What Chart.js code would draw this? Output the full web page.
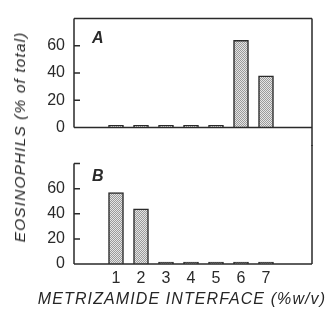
<!DOCTYPE html>
<html>
<head>
<meta charset="utf-8">
<script src="https://cdn.jsdelivr.net/npm/chart.js@4/dist/chart.umd.min.js"></script>
<style>
  body { margin: 0; background: #fff; }
  #wrap { position: relative; width: 333px; height: 316px; overflow: hidden; }
  #chartA { position: absolute; left: 0; top: 0; }
  #chartB { position: absolute; left: 0; top: 145px; }
  .title { position: absolute; white-space: nowrap; color: #262626;
           font: italic 15.5px "Liberation Sans", Arial, sans-serif; }
  #ytitle { left: 20px; top: 137px; transform: translate(-50%, -50%) rotate(-90deg); letter-spacing: 1.1px; }
  #xtitle { left: 182px; top: 299px; transform: translate(-50%, -50%); letter-spacing: 1.1px; font-size: 16px; }
</style>
</head>
<body>
<div id="wrap">
  <canvas id="chartA" width="333" height="146"></canvas>
  <canvas id="chartB" width="333" height="171"></canvas>
  <div id="ytitle" class="title">EOSINOPHILS (% of total)</div>
  <div id="xtitle" class="title">METRIZAMIDE INTERFACE (%w/v)</div>
</div>
<script>
// metrizamide interface (% w/v) and eosinophils (% of total) per panel
const interfaces = [1, 2, 3, 4, 5, 6, 7];
const panelA = [0, 0, 0, 0, 0, 64, 38];
const panelB = [57, 44, 0, 0, 0, 0, 0];
const yTicks = [0, 20, 40, 60, 80];

const FONT = '"Liberation Sans", Arial, sans-serif';
const INK = '#2a2a2a';

// stippled grey fill like the printed bars
function stipple() {
    let c = document.createElement('canvas');
    c.width = 2; c.height = 2;
    let g = c.getContext('2d');
    g.fillStyle = '#e4e4e4';
    g.fillRect(0, 0, 2, 2);
    g.fillStyle = '#9a9a9a';
    g.fillRect(0, 0, 1, 1);
    g.fillRect(1, 1, 1, 1);
    return g.createPattern(c, 'repeat');
}

// frame, inward ticks and panel letter
const framePlugin = {
    id: 'frame',
    afterDatasetsDraw(chart, args, opts) {
        let ctx = chart.ctx, a = chart.chartArea, y = chart.scales.y;
        let y0 = y.getPixelForValue(0);
        ctx.save();
        ctx.strokeStyle = INK;
        ctx.lineWidth = 1.5;
        ctx.beginPath();
        ctx.moveTo(a.left, a.top); ctx.lineTo(a.left, y0);
        ctx.moveTo(a.left, y0); ctx.lineTo(a.right, y0);
        ctx.moveTo(a.right, opts.boxTop ? a.top : 0);
        ctx.lineTo(a.right, opts.extendDown ? chart.height : y0);
        if (opts.boxTop) { ctx.moveTo(a.left, a.top); ctx.lineTo(a.right, a.top); }
        y.ticks.forEach(function(t) {
            let p = y.getPixelForValue(t.value);
            ctx.moveTo(a.left, p); ctx.lineTo(a.left + 6, p);
        });
        ctx.stroke();
        ctx.fillStyle = INK;
        ctx.font = 'italic bold 16px ' + FONT;
        ctx.textBaseline = 'top';
        ctx.fillText(opts.label, a.left + 18, a.top + opts.labelDy);
        ctx.restore();
    }
};

function makeChart(id, values, opts) {
    let ctx = document.getElementById(id).getContext('2d');
    return new Chart(ctx, {
        type: 'bar',
        data: {
            datasets: [{
                data: interfaces.map((x, i) => ({ x: x, y: values[i] })),
                backgroundColor: stipple(),
                borderColor: INK,
                borderWidth: 1.5,
                borderSkipped: 'start',
                barThickness: 15,
                minBarLength: 2
            }]
        },
        options: {
            responsive: false,
            animation: false,
            layout: { padding: opts.padding },
            scales: {
                x: {
                    type: 'linear',
                    min: 0,
                    max: 8.16,
                    display: opts.showX,
                    grid: { display: false, drawTicks: false },
                    border: { display: false },
                    afterBuildTicks: s => { s.ticks = interfaces.map(v => ({ value: v })); },
                    afterFit: s => { s.height = opts.xHeight; },
                    ticks: { color: INK, font: { family: FONT, size: 16 }, padding: 5 }
                },
                y: {
                    min: 0,
                    max: 80,
                    grid: { display: false, drawTicks: false },
                    border: { display: false },
                    afterBuildTicks: s => { s.ticks = yTicks.map(v => ({ value: v })); },
                    afterFit: s => { s.width = 74; },
                    ticks: {
                        color: INK,
                        font: { family: FONT, size: 16 },
                        padding: 9,
                        callback: v => (v === 80 ? '' : v)
                    }
                }
            },
            plugins: {
                legend: { display: false },
                tooltip: { enabled: false },
                frame: opts.frame
            }
        },
        plugins: [framePlugin]
    });
}

makeChart('chartA', panelA, {
    padding: { top: 13, right: 21, bottom: 15, left: 0 },
    showX: false,
    xHeight: 0,
    frame: { label: 'A', boxTop: true, extendDown: true, labelDy: 12 }
});

makeChart('chartB', panelB, {
    padding: { top: 1, right: 21, bottom: 0, left: 0 },
    showX: true,
    xHeight: 52,
    frame: { label: 'B', boxTop: false, extendDown: false, labelDy: 5 }
});
</script>
</body>
</html>
